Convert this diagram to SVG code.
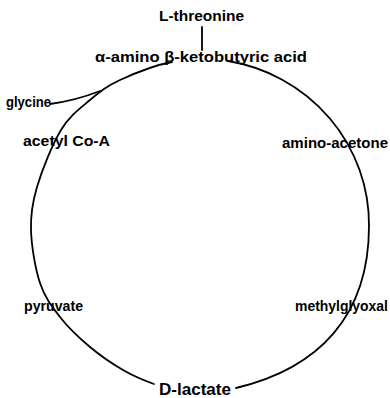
<svg xmlns="http://www.w3.org/2000/svg" width="390" height="398" viewBox="0 0 390 398">
<style>
.t{font-family:"Liberation Sans",Arial,sans-serif;font-weight:bold;font-size:14px;fill:#000}
.c{fill:none;stroke:#000;stroke-width:1.8;stroke-linecap:round}
</style>
<rect width="390" height="398" fill="#fff"/>
<g id="connectors">
<path class="c" d="M228,61 A169,166 0 0 1 369,226 C369,316 318.7,368.3 236,388"/>
<path class="c" d="M154,384 C140,379 133.7,376.2 123,370 C112.3,363.8 100.5,355.8 90,347 C79.5,338.2 68.3,327.7 60,317 C51.7,306.3 44.8,297.5 40,283 C35.2,268.5 31.5,246 31,230 C30.5,214 32,203.7 37,187 C42,170.3 52.2,144.5 61,130 C69.8,115.5 80.2,108.3 90,100 C99.8,91.7 106.3,86.3 120,80 C133.7,73.7 154,65.3 172,62"/>
<path class="c" d="M50,104 C65,102 82,98 100,91"/>
<line class="c" x1="202" y1="27" x2="202" y2="50"/>
</g>
<g id="n-threonine"><text class="t" x="159" y="21" textLength="85" lengthAdjust="spacingAndGlyphs">L-threonine</text></g>
<g id="n-akb"><text class="t" x="95" y="62" textLength="212" lengthAdjust="spacingAndGlyphs">α-amino β-ketobutyric acid</text></g>
<g id="n-glycine"><text class="t" x="6" y="107" textLength="45" lengthAdjust="spacingAndGlyphs">glycine</text></g>
<g id="n-acetylcoa"><text class="t" x="23" y="146" textLength="87" lengthAdjust="spacingAndGlyphs">acetyl Co-A</text></g>
<g id="n-aminoacetone"><text class="t" x="282" y="148" textLength="106" lengthAdjust="spacingAndGlyphs">amino-acetone</text></g>
<g id="n-pyruvate"><text class="t" x="24" y="311" textLength="59" lengthAdjust="spacingAndGlyphs">pyruvate</text></g>
<g id="n-methylglyoxal"><text class="t" x="295" y="311" textLength="93" lengthAdjust="spacingAndGlyphs">methylglyoxal</text></g>
<g id="n-dlactate"><text class="t" x="159" y="395" style="font-size:16px" textLength="72" lengthAdjust="spacingAndGlyphs">D-lactate</text></g>
</svg>
